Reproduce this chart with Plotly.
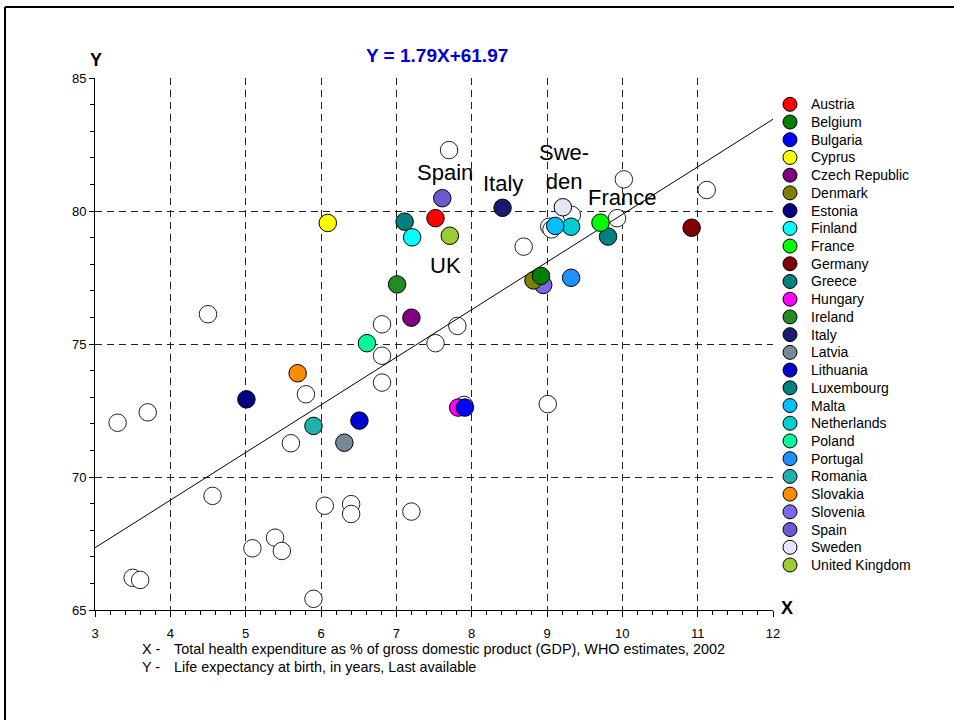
import plotly.graph_objects as go

# ---------------- data ----------------
countries = ["Austria", "Belgium", "Bulgaria", "Cyprus", "Czech Republic", "Denmark",
             "Estonia", "Finland", "France", "Germany", "Greece", "Hungary", "Ireland",
             "Italy", "Latvia", "Lithuania", "Luxembourg", "Malta", "Netherlands",
             "Poland", "Portugal", "Romania", "Slovakia", "Slovenia", "Spain",
             "Sweden", "United Kingdom"]
eu_x = [7.52, 8.92, 7.91, 6.09, 7.20, 8.82, 5.01, 7.21, 9.71, 10.92, 9.81, 7.82, 7.01,
        8.41, 6.31, 6.51, 7.11, 9.11, 9.32, 6.61, 9.32, 5.90, 5.69, 8.95, 7.61, 9.21, 7.71]
eu_y = [79.73, 77.56, 72.61, 79.55, 75.99, 77.39, 72.92, 79.01, 79.56, 79.37, 79.04,
        72.61, 77.24, 80.12, 71.29, 72.12, 79.60, 79.44, 79.41, 75.03, 77.49, 71.92,
        73.90, 77.22, 80.48, 80.14, 79.07]
eu_colors = ["#FF0000", "#008000", "#0000FF", "#FFFF00", "#800080", "#808000",
             "#000080", "#00FFFF", "#00FF00", "#800000", "#008080", "#FF00FF",
             "#228B22", "#191970", "#778899", "#0000CD", "#008080", "#00BFFF",
             "#00CED1", "#00FA9A", "#1E90FF", "#20B2AA", "#FF8C00", "#7B68EE",
             "#6A5ACD", "#E6E6FA", "#9ACD32"]

other_x = [4.50, 7.70, 6.81, 7.81, 7.52, 8.69, 9.03, 9.06, 9.33, 9.93, 10.02, 11.12,
           5.80, 5.60, 3.30, 3.70, 4.56, 5.09, 5.39, 5.48, 3.50, 3.60, 5.90, 6.05,
           6.81, 6.81, 7.90, 9.01, 6.40, 6.40, 7.20]
other_y = [76.12, 82.29, 75.74, 75.68, 75.03, 78.66, 79.41, 79.31, 79.85, 79.73, 81.19,
           80.79, 73.11, 71.27, 72.04, 72.43, 69.29, 67.32, 67.72, 67.22, 66.21, 66.13,
           65.42, 68.92, 74.56, 73.55, 72.71, 72.74, 68.98, 68.61, 68.70]

slope = 1.79
intercept = 61.97
x_range = [3, 12]
y_range = [65, 85]
x_ticks = [3, 4, 5, 6, 7, 8, 9, 10, 11, 12]
y_ticks = [65, 70, 75, 80, 85]

label_texts = ["Spain", "Italy", "Swe-<br>den", "France", "UK"]
label_x = [7.65, 8.42, 9.22, 9.99, 7.65]
label_y = [81.43, 81.05, 81.66, 80.49, 77.97]

title_text = "Y = 1.79X+61.97"
note_x = "Total health expenditure as % of gross domestic product (GDP), WHO estimates, 2002"
note_y = "Life expectancy at birth, in years, Last available"

FONT = "Liberation Sans, Arial, sans-serif"

fig = go.Figure()

# non-EU countries (white circles)
fig.add_trace(go.Scatter(
    x=other_x, y=other_y, mode="markers", showlegend=False, hoverinfo="skip",
    marker=dict(size=17.5, color="white", line=dict(color="#222222", width=1)),
    xaxis="x", yaxis="y"))

# regression line Y = slope*X + intercept
fig.add_trace(go.Scatter(
    x=x_range, y=[slope * v + intercept for v in x_range], mode="lines",
    showlegend=False, line=dict(color="black", width=1), hoverinfo="skip"))

# EU countries (drawn in reverse order, as in the reference)
for i in reversed(range(len(countries))):
    fig.add_trace(go.Scatter(
        x=[eu_x[i]], y=[eu_y[i]], mode="markers", name=countries[i], showlegend=False,
        marker=dict(size=17.5, color=eu_colors[i], line=dict(color="black", width=1))))

# legend column (markers on an auxiliary axis)
leg_y = [-i for i in range(len(countries))]
fig.add_trace(go.Scatter(
    x=[0] * len(countries), y=leg_y, mode="markers", showlegend=False, hoverinfo="skip",
    marker=dict(size=14, color=eu_colors, line=dict(color="black", width=1)),
    xaxis="x2", yaxis="y2", cliponaxis=False))

annotations = []
for name, yy in zip(countries, leg_y):
    annotations.append(dict(x=1.2, y=yy, xref="x2", yref="y2", text=name,
                            showarrow=False, xanchor="left", yanchor="middle",
                            font=dict(family=FONT, size=14, color="black")))

for t, xx, yy in zip(label_texts, label_x, label_y):
    annotations.append(dict(x=xx, y=yy, xref="x", yref="y", text=t, showarrow=False,
                            xanchor="center", yanchor="middle",
                            font=dict(family=FONT, size=22, color="black")))

W_PLOT = 859.0
def px(xp):
    return (xp - 95) / W_PLOT
def py(yp):
    return (610 - yp) / 532.0

annotations += [
    dict(x=px(437), y=py(55), xref="paper", yref="paper", text="<b>" + title_text + "</b>",
         showarrow=False, xanchor="center", yanchor="middle",
         font=dict(family=FONT, size=19, color="#0000CC")),
    dict(x=px(96), y=py(60), xref="paper", yref="paper", text="<b>Y</b>",
         showarrow=False, xanchor="center", yanchor="middle",
         font=dict(family=FONT, size=18, color="black")),
    dict(x=px(787), y=py(608), xref="paper", yref="paper", text="<b>X</b>",
         showarrow=False, xanchor="center", yanchor="middle",
         font=dict(family=FONT, size=18, color="black")),
    dict(x=px(140), y=py(649), xref="paper", yref="paper", text="X -",
         showarrow=False, xanchor="left", yanchor="middle",
         font=dict(family=FONT, size=14.4, color="black")),
    dict(x=px(172), y=py(649), xref="paper", yref="paper", text=note_x,
         showarrow=False, xanchor="left", yanchor="middle",
         font=dict(family=FONT, size=14.4, color="black")),
    dict(x=px(140), y=py(667), xref="paper", yref="paper", text="Y -",
         showarrow=False, xanchor="left", yanchor="middle",
         font=dict(family=FONT, size=14.4, color="black")),
    dict(x=px(172), y=py(667), xref="paper", yref="paper", text=note_y,
         showarrow=False, xanchor="left", yanchor="middle",
         font=dict(family=FONT, size=14.4, color="black")),
]

shapes = [
    dict(type="line", xref="paper", yref="paper", x0=px(5), x1=1.0, y0=py(7), y1=py(7),
         line=dict(color="black", width=2)),
    dict(type="line", xref="paper", yref="paper", x0=px(5), x1=px(5), y0=py(7), y1=py(720),
         line=dict(color="black", width=2)),
]

grid_style = dict(showgrid=True, gridcolor="#222222", gridwidth=1, griddash="7px,5px")

fig.update_layout(
    width=954, height=720,
    margin=dict(l=95, r=0, t=78, b=110),
    paper_bgcolor="white", plot_bgcolor="white",
    font=dict(family=FONT, size=12, color="black"),
    showlegend=False,
    xaxis=dict(domain=[0, 678 / W_PLOT], range=x_range, tickvals=x_ticks,
               ticks="outside", ticklen=6, tickcolor="black", tickwidth=1,
               showline=True, linecolor="black", linewidth=1, zeroline=False,
               ticklabelstandoff=5, automargin=False,
               tickfont=dict(family=FONT, size=13, color="black"),
               minor=dict(dtick=0.2, ticks="outside", ticklen=4, tickcolor="black",
                          showgrid=False),
               anchor="y", **grid_style),
    yaxis=dict(domain=[0, 1], range=y_range, tickvals=y_ticks,
               ticks="outside", ticklen=5, tickcolor="black", tickwidth=1,
               showline=True, linecolor="black", linewidth=1, zeroline=False,
               automargin=False,
               tickfont=dict(family=FONT, size=13, color="black"),
               minor=dict(dtick=1, ticks="outside", ticklen=4, tickcolor="black",
                          showgrid=False),
               anchor="x", **grid_style),
    xaxis2=dict(domain=[(780 - 95) / W_PLOT, 1], range=[-0.625, 10.25], visible=False,
                anchor="y2", fixedrange=True, automargin=False),
    yaxis2=dict(domain=[0, 1], range=[-28.54, 1.484], visible=False, anchor="x2",
                fixedrange=True, automargin=False),
    annotations=annotations,
    shapes=shapes,
)

fig.write_html("out.html", config={"displayModeBar": False},
               post_script="document.body.style.margin='0';document.body.style.overflow='hidden';")
